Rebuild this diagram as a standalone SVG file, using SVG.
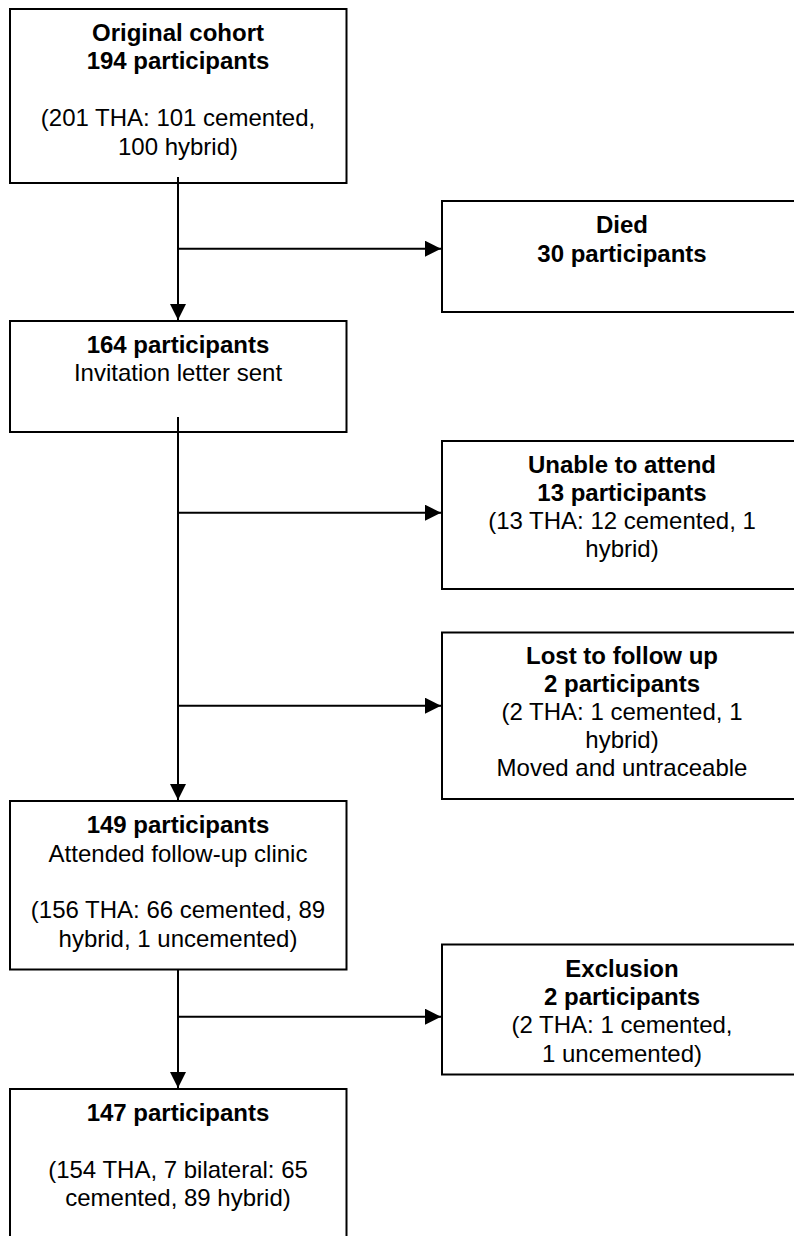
<svg xmlns="http://www.w3.org/2000/svg" width="794" height="1236" viewBox="0 0 794 1236">
<style>
.box{fill:#fff;stroke:#000;stroke-width:2}
.con{fill:none;stroke:#000;stroke-width:2}
text{font-family:"Liberation Sans",Arial,sans-serif;font-size:24px;fill:#000;text-anchor:middle}
.b{font-weight:bold}
</style>
<defs>
<marker id="ah" markerUnits="userSpaceOnUse" markerWidth="16" markerHeight="16" viewBox="0 0 15 15" refX="15" refY="7.5" orient="auto">
<path d="M0,0 L15,7.5 L0,15 Z" fill="#000"/>
</marker>
</defs>
<rect width="794" height="1236" fill="#fff"/>
<g id="n1">
<rect class="box" x="10" y="9" width="336.5" height="174"/>
<text x="178" y="41" class="b">Original cohort</text>
<text x="178" y="69" class="b">194 participants</text>
<text x="178" y="126">(201 THA: 101 cemented,</text>
<text x="178" y="154.5">100 hybrid)</text>
</g>
<g id="n2">
<rect class="box" x="442" y="201" width="362" height="111"/>
<text x="622" y="233.3" class="b">Died</text>
<text x="622" y="261.6" class="b">30 participants</text>
</g>
<g id="n3">
<rect class="box" x="10" y="321" width="336.5" height="111"/>
<text x="178" y="352.5" class="b">164 participants</text>
<text x="178" y="380.8">Invitation letter sent</text>
</g>
<g id="n4">
<rect class="box" x="442" y="441" width="362" height="148"/>
<text x="622" y="473" class="b">Unable to attend</text>
<text x="622" y="501.3" class="b">13 participants</text>
<text x="622" y="529">(13 THA: 12 cemented, 1</text>
<text x="622" y="557">hybrid)</text>
</g>
<g id="n5">
<rect class="box" x="442" y="632.5" width="362" height="166.5"/>
<text x="622" y="663.5" class="b">Lost to follow up</text>
<text x="622" y="691.5" class="b">2 participants</text>
<text x="622" y="719.5">(2 THA: 1 cemented, 1</text>
<text x="622" y="747.5">hybrid)</text>
<text x="622" y="775.5">Moved and untraceable</text>
</g>
<g id="n6">
<rect class="box" x="10" y="801" width="336.5" height="168.5"/>
<text x="178" y="833.3" class="b">149 participants</text>
<text x="178" y="861.6">Attended follow-up clinic</text>
<text x="178" y="918.2">(156 THA: 66 cemented, 89</text>
<text x="178" y="946.5">hybrid, 1 uncemented)</text>
</g>
<g id="n7">
<rect class="box" x="442" y="944.5" width="362" height="130"/>
<text x="622" y="976.8" class="b">Exclusion</text>
<text x="622" y="1005.1" class="b">2 participants</text>
<text x="622" y="1033.4">(2 THA: 1 cemented,</text>
<text x="622" y="1061.7">1 uncemented)</text>
</g>
<g id="n8">
<rect class="box" x="10" y="1089" width="336.5" height="170"/>
<text x="178" y="1120.5" class="b">147 participants</text>
<text x="178" y="1177.5">(154 THA, 7 bilateral: 65</text>
<text x="178" y="1206">cemented, 89 hybrid)</text>
</g>
<g id="connectors">
<path class="con" d="M178,177 V320" marker-end="url(#ah)"/>
<path class="con" d="M178,248.7 H441" marker-end="url(#ah)"/>
<path class="con" d="M178,417 V800" marker-end="url(#ah)"/>
<path class="con" d="M178,512.7 H441" marker-end="url(#ah)"/>
<path class="con" d="M178,705.7 H441" marker-end="url(#ah)"/>
<path class="con" d="M178,969.5 V1088" marker-end="url(#ah)"/>
<path class="con" d="M178,1016.7 H441" marker-end="url(#ah)"/>
</g>
</svg>
